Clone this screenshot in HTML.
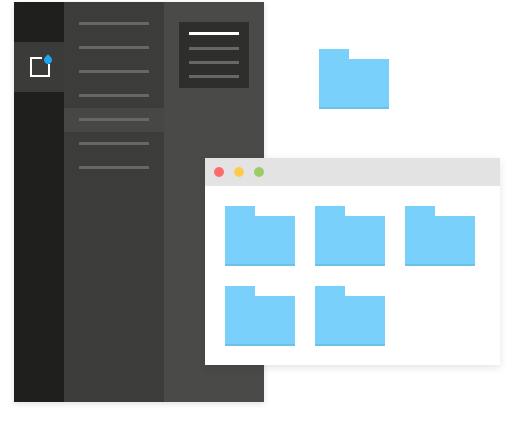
<!DOCTYPE html>
<html><head><style>
body{margin:0;width:514px;height:428px;background:#fff;position:relative;overflow:hidden}
div{position:absolute}
.l{height:3px;background:#676767}
.f{width:70px;height:60px}
.f:before{content:"";position:absolute;left:0;top:0;width:30px;height:12px;background:#79d1fb}
.f:after{content:"";position:absolute;left:0;top:10px;width:70px;height:50px;background:#79d1fb;border-bottom:2px solid #6cc0e8;box-sizing:border-box}
</style></head><body>
<div style="left:14px;top:2px;width:250px;height:400px;background:#4a4a49;box-shadow:0 2px 6px rgba(0,0,0,.12)"></div>
<div style="left:14px;top:2px;width:50px;height:400px;background:#1f1f1e"></div>
<div style="left:14px;top:42px;width:50px;height:50px;background:#3b3b3a"></div>
<div style="left:30px;top:57px;width:20px;height:20px;border:2px solid #fff;box-sizing:border-box"></div>
<div style="left:42px;top:52px;width:10px;height:12px;background:#3b3b3a"></div>
<div style="left:44px;top:56px;width:8px;height:8px;background:#1aa8f2;border-radius:50% 0 50% 50%;transform:rotate(-45deg)"></div>
<div style="left:64px;top:2px;width:100px;height:106px;background:#3c3c3b"></div>
<div style="left:64px;top:108px;width:100px;height:24px;background:#474746"></div>
<div style="left:64px;top:132px;width:100px;height:270px;background:#3c3c3b"></div>
<div class="l" style="left:79px;top:22px;width:70px"></div>
<div class="l" style="left:79px;top:46px;width:70px"></div>
<div class="l" style="left:79px;top:70px;width:70px"></div>
<div class="l" style="left:79px;top:94px;width:70px"></div>
<div class="l" style="left:79px;top:118px;width:70px"></div>
<div class="l" style="left:79px;top:142px;width:70px"></div>
<div class="l" style="left:79px;top:166px;width:70px"></div>
<div style="left:179px;top:22px;width:70px;height:66px;background:#2e2e2d"></div>
<div class="l" style="left:189px;top:32px;width:50px;background:#fff"></div>
<div class="l" style="left:189px;top:47px;width:50px"></div>
<div class="l" style="left:189px;top:61px;width:50px"></div>
<div class="l" style="left:189px;top:75px;width:50px"></div>
<div class="f" style="left:319px;top:49px"></div>
<div style="left:205px;top:158px;width:295px;height:207px;background:#fff;box-shadow:0 3px 8px rgba(0,0,0,.1)"></div>
<div style="left:205px;top:158px;width:295px;height:28px;background:#e3e3e3"></div>
<div style="left:214px;top:167px;width:10px;height:10px;border-radius:50%;background:#fe6b6b"></div>
<div style="left:234px;top:167px;width:10px;height:10px;border-radius:50%;background:#fdcb4f"></div>
<div style="left:254px;top:167px;width:10px;height:10px;border-radius:50%;background:#9ccb6a"></div>
<div class="f" style="left:225px;top:206px"></div>
<div class="f" style="left:315px;top:206px"></div>
<div class="f" style="left:405px;top:206px"></div>
<div class="f" style="left:225px;top:286px"></div>
<div class="f" style="left:315px;top:286px"></div>
</body></html>
